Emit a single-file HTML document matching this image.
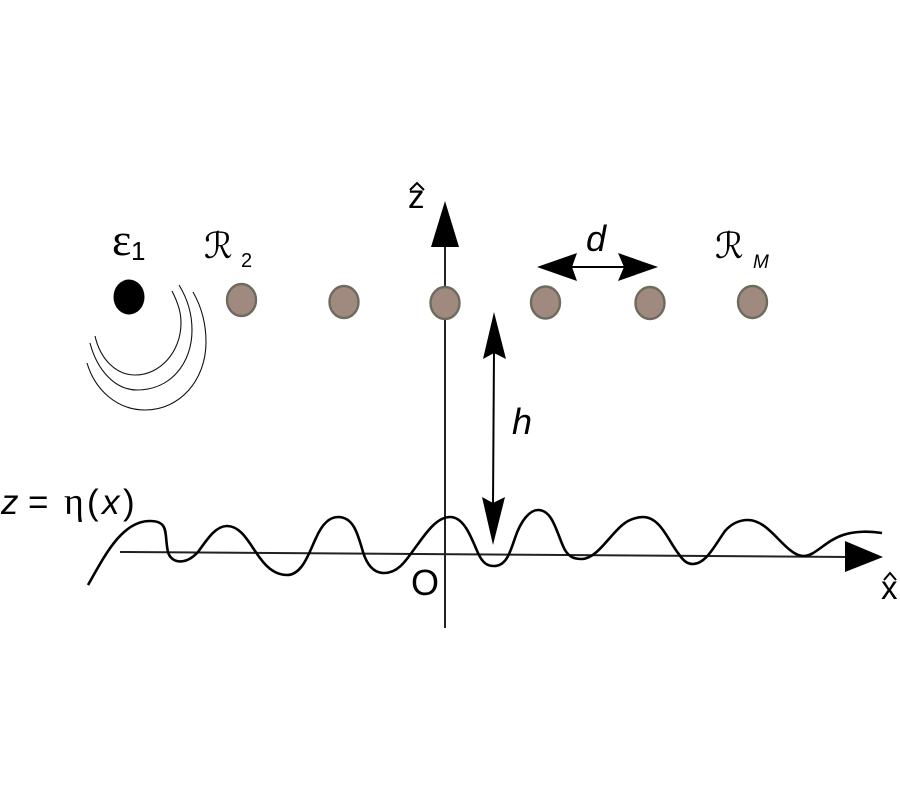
<!DOCTYPE html>
<html><head><meta charset="utf-8"><style>html,body{margin:0;padding:0;background:#fff}svg{display:block}text{font-family:"Liberation Sans",sans-serif;fill:#000}</style></head><body>
<svg width="900" height="800" viewBox="0 0 900 800" xmlns="http://www.w3.org/2000/svg">
<rect width="900" height="800" fill="#fff"/>
<line x1="445" y1="628" x2="445" y2="240" stroke="#222" stroke-width="2"/>
<polygon points="445,201 431,247 459,247" fill="#000"/>
<line x1="120" y1="552" x2="850" y2="557" stroke="#222" stroke-width="2"/>
<polygon points="845,541 883,557 845,572" fill="#000"/>
<path d="M88,585 C105,555 122,521 150,521 C170,521 164,535 168,552 C171,563 185,566 198,552 C208,538 216,526 227,526 C242,526 250,545 260,558 C270,572 280,575 287,575 C303,575 310,550 316,538 C323,522 331,517 338,517 C354,517 358,535 363,552 C368,568 376,573 384,573 C400,573 408,557 418,544 C428,530 438,517 450,517 C465,517 472,540 478,553 C483,564 488,566 494,566 C506,566 510,553 515,538 C521,520 530,510 538,510 C552,510 556,530 563,546 C568,558 575,559 582,559 C598,559 612,530 628,521 C634,518 638,517 643,517 C660,517 668,540 678,553 C684,562 688,564 693,564 C706,564 715,545 725,531 C732,523 740,520 748,520 C765,520 778,541 790,550 C796,555 800,556 804,556 C815,556 825,541 843,535 C855,531 870,531 882,533" fill="none" stroke="#000" stroke-width="2.6"/>
<ellipse cx="129" cy="297" rx="15.5" ry="17.5" fill="#000"/>
<g fill="#a08a80" stroke="#6e6b5e" stroke-width="2.4">
<ellipse cx="241.500" cy="300" rx="14.500" ry="16"/>
<ellipse cx="344" cy="302" rx="14.500" ry="16"/>
<ellipse cx="445" cy="303" rx="14.500" ry="16"/>
<ellipse cx="545.500" cy="302.500" rx="14.500" ry="16"/>
<ellipse cx="650" cy="303" rx="14.500" ry="16"/>
<ellipse cx="752.500" cy="302" rx="14.500" ry="16"/>
</g>
<g fill="none" stroke="#111" stroke-width="1.1">
<path d="M172,291 C178,303 181,312 181,323 C181,352 160,375 135,375 C115,375 100,358 95,336"/>
<path d="M179,285 C187,298 192,313 192,330 C192,364 170,390 137,390 C115,390 97,370 90,343"/>
<path d="M193,292 C201,306 206,322 206,342 C206,380 180,410 145,410 C117,410 95,390 87,363"/>
</g>
<line x1="494" y1="350" x2="493" y2="505" stroke="#000" stroke-width="2"/>
<polygon points="494,312 483,359 494,353 506,359" fill="#000"/>
<polygon points="493,545 482,497 493,503 505,497" fill="#000"/>
<line x1="570" y1="267" x2="625" y2="267" stroke="#000" stroke-width="2"/>
<polygon points="537,267 577,253 572,267 577,281" fill="#000"/>
<polygon points="658,267 618,253 624,267 618,281" fill="#000"/>
<text x="408" y="208" font-size="33">z</text>
<polyline points="410,190 417,183 424,190" fill="none" stroke="#000" stroke-width="2"/>
<text x="881" y="599" font-size="33">x</text>
<polyline points="884,580 890,573 896,580" fill="none" stroke="#000" stroke-width="2"/>
<text x="112" y="255" font-size="46" style="font-family:'Liberation Serif',serif">ε</text>
<text x="131" y="260" font-size="26">1</text>
<text x="204" y="258" font-size="36" style="font-family:'DejaVu Sans',serif;font-style:italic">ℛ</text>
<text x="241" y="267" font-size="20">2</text>
<text x="715" y="258" font-size="36" style="font-family:'DejaVu Sans',serif;font-style:italic">ℛ</text>
<text x="753" y="268" font-size="19" font-style="italic">M</text>
<text x="586" y="251" font-size="36" font-style="italic">d</text>
<text x="512" y="434" font-size="36" font-style="italic">h</text>
<text x="411" y="595" font-size="36">O</text>
<text x="1" y="514" font-size="35" font-style="italic">z</text>
<text x="28" y="514" font-size="35">=</text>
<text x="64" y="514" font-size="38" style="font-family:'Liberation Serif',serif">η</text>
<text x="87" y="514" font-size="35">(</text>
<text x="102" y="514" font-size="35" font-style="italic">x</text>
<text x="123" y="514" font-size="35">)</text>
</svg>
</body></html>
